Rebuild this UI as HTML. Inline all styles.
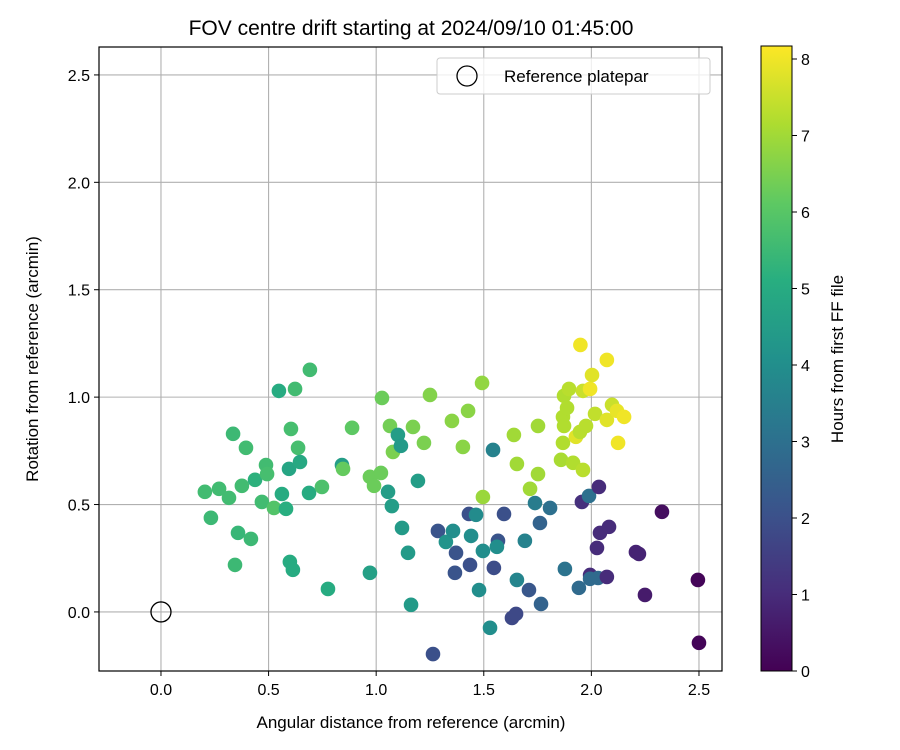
<!DOCTYPE html>
<html><head><meta charset="utf-8"><style>
body{margin:0;background:#fff;}
svg{display:block;font-family:"Liberation Sans","DejaVu Sans",sans-serif;}
</style></head><body>
<svg id="chart" width="900" height="750" viewBox="0 0 900 750">
<defs><linearGradient id="vir" x1="0" y1="1" x2="0" y2="0">
<stop offset="0" stop-color="#440154"/><stop offset="0.125" stop-color="#472d7b"/><stop offset="0.25" stop-color="#3b528b"/><stop offset="0.375" stop-color="#2c728e"/><stop offset="0.5" stop-color="#21918c"/><stop offset="0.625" stop-color="#28ae80"/><stop offset="0.75" stop-color="#5ec962"/><stop offset="0.875" stop-color="#addc30"/><stop offset="1" stop-color="#fde725"/>
</linearGradient></defs>
<text x="411" y="35" text-anchor="middle" font-size="21">FOV centre drift starting at 2024/09/10 01:45:00</text>
<g id="grid"></g>
<g id="points"></g>
<rect x="99" y="47" width="623" height="624" fill="none" stroke="#000" stroke-width="1.2"/>
<g id="ticks"></g>
<text x="411" y="728" text-anchor="middle" font-size="17">Angular distance from reference (arcmin)</text>
<text transform="translate(38,359) rotate(-90)" text-anchor="middle" font-size="17">Rotation from reference (arcmin)</text>
<g>
<rect x="437" y="58" width="273" height="36" rx="3" fill="#fff" fill-opacity="0.8" stroke="#ccc"/>
<circle cx="467" cy="76" r="10" fill="none" stroke="#000" stroke-width="1.3"/>
<text x="504" y="82" font-size="17">Reference platepar</text>
</g>
<rect x="761" y="46" width="31" height="625" fill="url(#vir)" stroke="#000" stroke-width="1"/>
<g id="cbticks"></g>
<text transform="translate(843,359) rotate(-90)" text-anchor="middle" font-size="17">Hours from first FF file</text>
</svg>
<script>
const xs=[0.204,0.232,0.270,0.316,0.335,0.344,0.358,0.376,0.395,0.418,0.437,0.469,0.488,0.493,0.525,0.548,0.562,0.581,0.595,0.604,0.599,0.613,0.623,0.637,0.646,0.688,0.692,0.748,0.776,0.841,0.846,0.888,0.971,0.971,0.990,1.022,1.027,1.055,1.064,1.073,1.078,1.101,1.115,1.120,1.148,1.162,1.171,1.194,1.222,1.250,1.264,
1.287,1.324,1.352,1.357,1.371,1.366,1.403,1.427,1.431,1.436,1.441,1.464,1.478,1.492,1.496,1.496,1.529,1.543,1.547,1.566,1.561,1.594,1.631,1.640,1.650,1.654,1.654,1.691,1.710,1.715,1.738,1.752,1.752,1.761,1.766,1.808,1.859,1.868,1.868,1.873,1.873,1.877,1.887,1.896,1.915,1.928,1.942,1.947,1.949,1.956,1.961,1.961,1.975,1.989,1.994,1.994,1.994,2.003,2.017,2.026,2.031,2.035,2.040,2.072,2.072,2.072,2.082,2.096,2.119,2.124,2.152,2.207,2.221,2.249,2.328,2.495,2.500];
const ys=[0.559,0.438,0.573,0.531,0.829,0.219,0.368,0.587,0.764,0.340,0.615,0.512,0.684,0.642,0.484,1.029,0.549,0.480,0.666,0.852,0.233,0.196,1.038,0.764,0.698,0.554,1.127,0.582,0.107,0.684,0.666,0.857,0.629,0.182,0.587,0.647,0.996,0.559,0.866,0.493,0.745,0.824,0.773,0.391,0.275,0.033,0.861,0.610,0.787,1.010,-0.196,
0.377,0.326,0.889,0.377,0.275,0.182,0.768,0.936,0.456,0.219,0.354,0.452,0.102,1.066,0.535,0.284,-0.074,0.754,0.205,0.331,0.303,0.456,-0.028,0.824,-0.009,0.689,0.149,0.331,0.102,0.573,0.507,0.866,0.642,0.414,0.037,0.484,0.708,0.908,0.787,1.006,0.866,0.200,0.950,1.038,0.694,0.815,0.112,0.838,1.243,0.512,1.029,0.661,0.866,0.540,1.038,0.172,0.154,1.103,0.922,0.298,0.158,0.582,0.368,1.173,0.894,0.163,0.396,0.964,0.936,0.787,0.908,0.279,0.270,0.079,0.466,0.149,-0.144];
const hours=[5.6,5.5,5.6,5.6,5.5,5.5,5.4,5.6,5.6,5.5,5.2,5.6,5.6,5.7,5.9,5.0,5.0,5.1,4.8,5.7,5.0,5.0,5.6,5.7,4.9,5.0,5.6,5.8,5.0,4.5,6.2,6.1,6.3,4.6,6.3,6.3,6.3,4.5,6.4,4.5,6.5,4.5,4.4,4.4,4.4,4.4,6.5,4.5,6.5,6.6,2.0,
2.1,4.2,6.7,4.0,2.1,2.1,6.7,6.7,2.0,2.0,4.0,3.9,4.0,6.8,6.9,4.0,4.0,3.6,1.9,2.1,4.0,2.0,1.8,7.0,1.8,7.0,3.7,3.6,2.2,7.0,3.4,7.0,7.0,2.6,2.6,3.0,7.1,7.2,7.2,7.2,7.2,3.1,7.2,7.3,7.2,7.8,2.8,7.3,8.0,1.1,7.5,7.3,7.3,3.0,8.0,1.0,2.8,7.8,7.4,1.0,2.8,1.0,1.0,8.0,7.8,1.0,1.0,7.5,7.9,8.0,8.0,0.8,0.8,0.6,0.3,0.1,0.1];
const xTicks=[0.0,0.5,1.0,1.5,2.0,2.5];
const yTicks=[0.0,0.5,1.0,1.5,2.0,2.5];
const cTicks=[0,1,2,3,4,5,6,7,8];
const X0=99,X1=722,Y0=671,Y1=47,xmin=-0.288,xmax=2.607,ymin=-0.275,ymax=2.630,cmax=8.17;
const sx=v=>X0+(v-xmin)/(xmax-xmin)*(X1-X0);
const sy=v=>Y0-(v-ymin)/(ymax-ymin)*(Y0-Y1);
const cy=v=>671-v/cmax*625;
const V=[[68,1,84],[71,45,123],[59,82,139],[44,114,142],[33,145,140],[40,174,128],[94,201,98],[173,220,48],[253,231,37]];
function vir(h){let t=Math.max(0,Math.min(1,h/cmax))*8;let i=Math.min(7,Math.floor(t));let f=t-i;const a=V[i],b=V[i+1];return 'rgb('+a.map((c,k)=>Math.round(c+(b[k]-c)*f)).join(',')+')';}
const NS='http://www.w3.org/2000/svg';
function mk(tag,attrs,parent){const e=document.createElementNS(NS,tag);for(const k in attrs)e.setAttribute(k,attrs[k]);parent.appendChild(e);return e;}
const g=document.getElementById('grid'),t=document.getElementById('ticks'),p=document.getElementById('points'),cb=document.getElementById('cbticks');
xTicks.forEach(v=>{const x=sx(v);
const l=mk('line',{x1:x,x2:x,y1:Y1,y2:Y0,stroke:'#b0b0b0','stroke-width':1.1},g);


const tk=mk('line',{x1:x,x2:x,y1:Y0,y2:Y0+5,stroke:'#000'},t);


const tx=mk('text',{x:x,y:Y0+24,'text-anchor':'middle','font-size':16},t);tx.textContent=v.toFixed(1);

});
yTicks.forEach(v=>{const y=sy(v);
const l=mk('line',{x1:X0,x2:X1,y1:y,y2:y,stroke:'#b0b0b0','stroke-width':1.1},g);


const tk=mk('line',{x1:X0-5,x2:X0,y1:y,y2:y,stroke:'#000'},t);


const tx=mk('text',{x:X0-9,y:y+6,'text-anchor':'end','font-size':16},t);tx.textContent=v.toFixed(1);

});
const ref=mk('circle',{cx:sx(0),cy:sy(0),r:10,fill:'none',stroke:'#000','stroke-width':1.3},p);


xs.forEach((v,i)=>{const c=mk('circle',{cx:sx(v),cy:sy(ys[i]),r:7.3,fill:vir(hours[i])},p);

});
cTicks.forEach(v=>{const y=cy(v);
const tk=mk('line',{x1:792,x2:797,y1:y,y2:y,stroke:'#000'},cb);


const tx=mk('text',{x:801,y:y+6,'font-size':16},cb);tx.textContent=v;

});
</script>
</body></html>
